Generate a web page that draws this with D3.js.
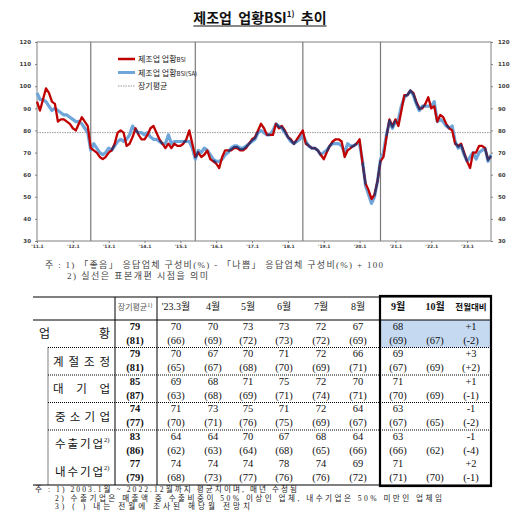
<!DOCTYPE html>
<html>
<head>
<meta charset="utf-8">
<script src="https://cdn.jsdelivr.net/npm/d3@7"></script>
<style>
  body { margin: 0; background: #fff; }
  svg { display: block; }
</style>
</head>
<body>
<div id="chart"></div>
<script>
// monthly series, 2011.1 ~ 2023.9
const bsiActual = [
  93, 89, 94, 99, 97, 93, 92, 84, 85, 85, 84, 83,   // 2011
  81, 80, 83, 86, 84, 82, 72, 71, 70, 68, 67, 68,   // 2012
  70, 71, 74, 79, 80, 79, 73, 74, 77, 81, 78, 76,   // 2013
  76, 78, 81, 82, 79, 76, 74, 72, 74, 72, 74, 73,   // 2014
  73, 74, 76, 80, 74, 68, 70, 68, 69, 71, 67, 66,   // 2015
  65, 63, 68, 71, 71, 71, 72, 72, 71, 71, 72, 74,   // 2016
  76, 77, 80, 83, 81, 78, 78, 78, 83, 81, 82, 80,   // 2017
  77, 76, 74, 76, 78, 80, 74, 73, 72, 72, 71, 69,   // 2018
  67, 70, 73, 75, 76, 76, 75, 68, 71, 72, 73, 74,   // 2019
  76, 65, 56, 53, 49, 51, 57, 66, 68, 77, 85, 82,   // 2020
  85, 82, 89, 96, 96, 98, 97, 93, 90, 90, 92, 95,   // 2021
  90, 91, 84, 87, 86, 83, 81, 80, 74, 73, 74, 70,   // 2022
  66, 63, 70, 70, 73, 73, 72, 67, 68                // 2023
];
const bsiSA = [
  97, 94, 94, 93, 91, 89, 90, 89, 88, 87, 87, 86,
  85, 84, 84, 83, 81, 79, 71, 74, 72, 70, 69, 70,
  72, 71, 73, 75, 76, 75, 76, 78, 82, 80, 79, 79,
  78, 79, 77, 76, 76, 75, 74, 74, 78, 74, 75, 75,
  75, 75, 75, 75, 72, 67, 71, 70, 72, 71, 69, 67,
  66, 66, 67, 69, 70, 72, 73, 73, 72, 72, 73, 74,
  75, 76, 79, 80, 79, 78, 78, 80, 83, 82, 81, 79,
  77, 75, 74, 75, 76, 78, 75, 73, 72, 72, 71, 69,
  70, 71, 73, 74, 74, 74, 73, 70, 74, 73, 73, 74,
  74, 66, 55, 51, 47, 50, 57, 67, 70, 78, 84, 81,
  84, 85, 91, 95, 96, 98, 96, 92, 89, 91, 91, 91,
  91, 93, 84, 85, 84, 82, 81, 82, 75, 72, 73, 69,
  66, 68, 70, 67, 70, 71, 72, 66, 69
];
const longAvg = 79;
const yTicks = [30, 40, 50, 60, 70, 80, 90, 100, 110, 120];
const xTickLabels = ["'11.1", "'12.1", "'13.1", "'14.1", "'15.1", "'16.1", "'17.1",
  "'18.1", "'19.1", "'20.1", "'21.1", "'22.1", "'23.1"];
const sampleBreaks = [18, 53, 89, 115]; // month index of 표본개편
const legendLabels = ["제조업 업황", "제조업 업황", "장기평균"];

// table
const tableCols = ["장기평균", "'23.3월", "4월", "5월", "6월", "7월", "8월", "9월", "10월", "전월대비"];
const tableRows = ["업황", "계절조정", "대기업", "중소기업", "수출기업", "내수기업"];
const actualRows = [
  [79, 70, 70, 73, 73, 72, 67, 68, null, "+1"],
  [79, 70, 67, 70, 71, 72, 66, 69, null, "+3"],
  [85, 69, 68, 71, 75, 72, 70, 71, null, "+1"],
  [74, 71, 73, 75, 71, 72, 64, 63, null, "-1"],
  [83, 64, 64, 70, 67, 68, 64, 63, null, "-1"],
  [77, 74, 74, 74, 78, 74, 69, 71, null, "+2"]
];
const forecastRows = [
  [81, 66, 69, 72, 73, 72, 69, 69, 67, "-2"],
  [81, 65, 67, 68, 70, 69, 71, 67, 69, "+2"],
  [87, 63, 68, 69, 71, 74, 71, 70, 69, "-1"],
  [77, 70, 71, 76, 75, 69, 67, 67, 65, "-2"],
  [86, 62, 63, 64, 68, 65, 66, 66, 62, "-4"],
  [79, 68, 73, 77, 76, 76, 72, 71, 70, "-1"]
];
const chartNotes = [
  "주 : 1) 「좋음」 응답업체 구성비(%) - 「나쁨」 응답업체 구성비(%) + 100",
  "2) 실선은 표본개편 시점을 의미"
];
const tableNotes = [
  "주 : 1) 2003.1월 ~ 2022.12월까지 평균치이며, 매년 수정됨",
  "2) 수출기업은 매출액 중 수출비중이 50% 이상인 업체, 내수기업은 50% 미만인 업체임",
  "3) (   ) 내는 전월에 조사된 해당월 전망치"
];

const KR = "'Noto Sans CJK KR', sans-serif";
const SERIF = "'Liberation Serif', 'Noto Sans CJK KR', serif";
const RED = '#c00000';
const BLUE = '#6fa6da';
const NAVY = '#2e356f';

const svg = d3.select('#chart')
  .append('svg')
  .attr('width', 520)
  .attr('height', 530);

// Title
const title = svg.append('text')
  .attr('x', 260)
  .attr('y', 23)
  .attr('text-anchor', 'middle')
  .attr('font-family', KR)
  .attr('font-size', 14)
  .attr('font-weight', 'bold')
  .attr('fill', '#111')
  .style('white-space', 'pre');
title.append('tspan').text('제조업  업황BSI');
title.append('tspan').attr('font-size', 8).attr('dy', -6).text('1)');
title.append('tspan').attr('dy', 6).text('  추이');
const tb = title.node().getBBox();
svg.append('line')
  .attr('x1', tb.x).attr('x2', tb.x + tb.width)
  .attr('y1', 26).attr('y2', 26)
  .attr('stroke', '#111').attr('stroke-width', 1);

// ---- line chart ----
const x = d3.scaleLinear().domain([0, bsiActual.length - 1]).range([37, 491]);
const y = d3.scaleLinear().domain([30, 120]).range([241, 42]);

svg.append('rect')
  .attr('x', x(0)).attr('y', y(120))
  .attr('width', x(bsiActual.length - 1) - x(0))
  .attr('height', y(30) - y(120))
  .attr('fill', 'none')
  .attr('stroke', '#808080');

const styleAxis = (g, size) => {
  g.select('.domain').remove();
  g.selectAll('line').attr('stroke', '#808080');
  g.selectAll('text')
    .attr('font-family', "'DejaVu Sans', sans-serif")
    .attr('font-weight', 'bold')
    .attr('font-size', size)
    .attr('fill', '#404040');
};

svg.append('g')
  .attr('transform', `translate(${x(0)},0)`)
  .call(d3.axisLeft(y).tickValues(yTicks).tickSize(2).tickPadding(4))
  .call(g => styleAxis(g, 5.5));

svg.append('g')
  .attr('transform', `translate(${x(bsiActual.length - 1)},0)`)
  .call(d3.axisRight(y).tickValues(yTicks).tickSize(2).tickPadding(5))
  .call(g => styleAxis(g, 5.5));

svg.append('g')
  .attr('transform', `translate(0,${y(30)})`)
  .call(d3.axisBottom(x)
    .tickValues(xTickLabels.map((d, i) => i * 12))
    .tickFormat((d, i) => xTickLabels[i])
    .tickSize(2).tickPadding(2))
  .call(g => styleAxis(g, 4.5));

// long-run average
svg.append('line')
  .attr('x1', x(0)).attr('x2', x(bsiActual.length - 1))
  .attr('y1', y(longAvg)).attr('y2', y(longAvg))
  .attr('stroke', '#999')
  .attr('stroke-width', 1)
  .attr('stroke-dasharray', '1.5,1');

// sample revision lines
svg.selectAll('.brk')
  .data(sampleBreaks)
  .enter()
  .append('line')
  .attr('class', 'brk')
  .attr('x1', d => x(d)).attr('x2', d => x(d))
  .attr('y1', y(120)).attr('y2', y(30))
  .attr('stroke', '#7a7a7a')
  .attr('stroke-width', 1.2);

const line = d3.line().x((d, i) => x(i)).y(d => y(d));

svg.append('path')
  .attr('d', line(bsiSA))
  .attr('fill', 'none')
  .attr('stroke', BLUE)
  .attr('stroke-width', 3.2)
  .attr('stroke-linejoin', 'round');

svg.append('path')
  .attr('d', line(bsiActual))
  .attr('fill', 'none')
  .attr('stroke', RED)
  .attr('stroke-width', 2.3)
  .attr('stroke-linejoin', 'round');

// where the two series overlap they show up dark
const overlap = d3.line()
  .defined((d, i) => Math.abs(bsiActual[i] - bsiSA[i]) <= 1)
  .x((d, i) => x(i))
  .y((d, i) => y((bsiActual[i] + bsiSA[i]) / 2));
svg.append('path')
  .attr('d', overlap(bsiActual))
  .attr('fill', 'none')
  .attr('stroke', NAVY)
  .attr('stroke-width', 2)
  .attr('stroke-linejoin', 'round');

// legend
const legend = svg.append('g').attr('transform', 'translate(118,59)');
const legendStyles = [
  { color: RED, width: 2.5, dash: null, suffix: 'BSI' },
  { color: BLUE, width: 3, dash: null, suffix: 'BSI(SA)' },
  { color: '#999', width: 1, dash: '1.5,1', suffix: '' }
];
legendLabels.forEach((lbl, i) => {
  const row = legend.append('g').attr('transform', `translate(0,${i * 13.5})`);
  row.append('line')
    .attr('x1', 0).attr('x2', 17)
    .attr('stroke', legendStyles[i].color)
    .attr('stroke-width', legendStyles[i].width)
    .attr('stroke-dasharray', legendStyles[i].dash);
  const t = row.append('text')
    .attr('x', 20).attr('y', 3)
    .attr('font-family', KR)
    .attr('font-size', 8)
    .attr('fill', '#222');
  t.append('tspan').text(lbl);
  if (legendStyles[i].suffix) {
    t.append('tspan').attr('font-size', 6).text(legendStyles[i].suffix);
  }
});

// chart notes
svg.append('text')
  .attr('x', 45).attr('y', 268)
  .attr('font-family', SERIF).attr('font-size', 9).attr('fill', '#444')
  .attr('textLength', 338).attr('lengthAdjust', 'spacing')
  .text(chartNotes[0]);
svg.append('text')
  .attr('x', 67).attr('y', 279)
  .attr('font-family', SERIF).attr('font-size', 9).attr('fill', '#444')
  .attr('textLength', 141).attr('lengthAdjust', 'spacing')
  .text(chartNotes[1]);

// ---- table ----
const tLeft = 33, tRight = 491, tTop = 297, hdrBottom = 320, tBottom = 485;
const colCenters = [135, 176, 213, 248, 284, 321, 358, 398, 435, 471];
const boxLeft = 380;
const rowY = d3.scaleBand().domain(tableRows).range([hdrBottom, tBottom]);

// highlight of current month (업황)
svg.append('rect')
  .attr('x', boxLeft).attr('y', rowY(tableRows[0]))
  .attr('width', tRight - boxLeft).attr('height', rowY.bandwidth())
  .attr('fill', '#c5d9f1');

const hline = (y0, x0, dashed, w) => svg.append('line')
  .attr('x1', x0).attr('x2', tRight)
  .attr('y1', y0).attr('y2', y0)
  .attr('stroke', '#000')
  .attr('stroke-width', w || 1)
  .attr('stroke-dasharray', dashed ? '1,1' : null);

hline(tTop, tLeft, false, 1.2);
hline(hdrBottom, tLeft, false, 1);
hline(tBottom, tLeft, false, 1.2);
// dotted row separators (none between 수출/내수)
[1, 2, 3, 4].forEach(i => hline(rowY(tableRows[i]), 48, true, 1));

[115, 157].forEach(cx => svg.append('line')
  .attr('x1', cx).attr('x2', cx).attr('y1', tTop).attr('y2', tBottom)
  .attr('stroke', '#000').attr('stroke-width', 1));
svg.append('line')
  .attr('x1', 48).attr('x2', 48)
  .attr('y1', rowY(tableRows[1])).attr('y2', tBottom)
  .attr('stroke', '#000').attr('stroke-dasharray', '1,1');

// thick box around latest month
svg.append('rect')
  .attr('x', boxLeft).attr('y', tTop - 1)
  .attr('width', tRight - boxLeft).attr('height', tBottom - tTop + 2)
  .attr('fill', 'none')
  .attr('stroke', '#000')
  .attr('stroke-width', 2.2);

// header
tableCols.forEach((c, i) => {
  const t = svg.append('text')
    .attr('x', colCenters[i]).attr('y', 310)
    .attr('text-anchor', 'middle')
    .attr('font-family', SERIF)
    .attr('font-size', i === 0 ? 8 : (i === 9 ? 8.5 : 10))
    .attr('font-weight', i >= 7 ? 'bold' : 'normal')
    .attr('fill', i === 0 ? '#555' : '#111');
  t.append('tspan').text(c);
  if (i === 0) t.append('tspan').attr('font-size', 6).attr('dy', -3).text('1)');
});

// row labels
const labelBox = [[39, 71], [53, 57], [53, 57], [55, 55], [55, 48], [55, 48]];
tableRows.forEach((r, i) => {
  svg.append('text')
    .attr('x', labelBox[i][0])
    .attr('y', rowY(r) + 18)
    .attr('font-family', KR)
    .attr('font-size', i === 0 ? 12 : 11.5)
    .attr('fill', '#111')
    .attr('textLength', labelBox[i][1])
    .attr('lengthAdjust', 'spacing')
    .text(r);
  if (i >= 4) {
    svg.append('text')
      .attr('x', 104).attr('y', rowY(r) + 12)
      .attr('font-family', SERIF).attr('font-size', 6.5).attr('fill', '#111')
      .text('2)');
  }
});

// values
tableRows.forEach((r, ri) => {
  const top = rowY(r);
  colCenters.forEach((cx, ci) => {
    const bold = ci === 0 ? 'bold' : 'normal';
    const v = actualRows[ri][ci];
    if (v !== null) {
      svg.append('text')
        .attr('x', cx).attr('y', top + 9.5)
        .attr('text-anchor', 'middle')
        .attr('font-family', SERIF).attr('font-size', 10.5)
        .attr('font-weight', bold).attr('fill', '#111')
        .text(v);
    }
    svg.append('text')
      .attr('x', cx).attr('y', top + 23.5)
      .attr('text-anchor', 'middle')
      .attr('font-family', SERIF).attr('font-size', 10.5)
      .attr('font-weight', bold).attr('fill', '#111')
      .text('(' + forecastRows[ri][ci] + ')');
  });
});

// table notes
const noteLayout = [[35, 492, 262], [55, 500.5, 387], [55, 509, 195]];
tableNotes.forEach((n, i) => {
  svg.append('text')
    .attr('x', noteLayout[i][0]).attr('y', noteLayout[i][1])
    .attr('font-family', SERIF).attr('font-size', 7.6).attr('fill', '#222')
    .attr('textLength', noteLayout[i][2]).attr('lengthAdjust', 'spacing')
    .text(n);
});
</script>
</body>
</html>
